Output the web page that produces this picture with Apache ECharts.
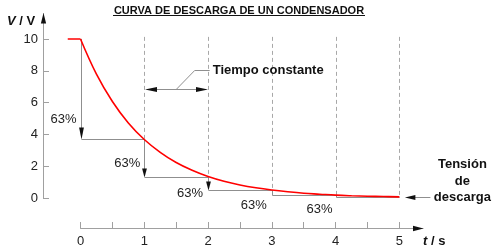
<!DOCTYPE html>
<html><head><meta charset="utf-8">
<script src="https://cdn.jsdelivr.net/npm/echarts@6/dist/echarts.min.js"></script>
<style>html,body{margin:0;padding:0;background:#fff}#c{width:500px;height:252px}</style>
</head><body><div id="c"></div>
<script>
// ---- data ----
const yTicks = [0, 2, 4, 6, 8, 10];
const xTicks = [0, 1, 2, 3, 4, 5];
const xTickMarks = [0, 0.5, 1, 1.5, 2, 2.5, 3, 3.5, 4, 4.5, 5];
const flatT = [-0.2, 0];
const flatV = [10, 10];
const curveT = [0, 0.25, 0.5, 0.75, 1, 1.25, 1.5, 1.75, 2, 2.25, 2.5, 2.75, 3, 3.25, 3.5, 3.75, 4, 4.25, 4.5, 4.75, 5];
const curveV = [10, 7.79, 6.07, 4.72, 3.68, 2.87, 2.23, 1.74, 1.35, 1.05, 0.82, 0.64, 0.50, 0.39, 0.30, 0.24, 0.18, 0.14, 0.11, 0.09, 0.07];
const stepT = [0, 1, 2, 3, 4];
const stepFrom = [10, 3.68, 1.35, 0.50, 0.18];
const stepTo = [3.68, 1.35, 0.50, 0.18, 0.07];
const stepLabels = ['63%', '63%', '63%', '63%', '63%'];
const dashT = [1, 2, 3, 4, 5];
const dashTo = [3.68, 1.35, 0.50, 0.18, 0.07];
const dashTop = 10.13;
const spanFrom = 1, spanTo = 2, spanV = 6.86;
const endT = 5, endV = 0.07;
const titleText = 'CURVA DE DESCARGA DE UN CONDENSADOR';
const spanText = 'Tiempo constante';
const endText = 'Tensión\nde\ndescarga';

// ---- style ----
const FONT = '"Liberation Sans", Arial, Helvetica, sans-serif';
const GRAY = '#8f8f8f';
const AXIS = '#a0a0a0';
const pctOffsets = [[-4, -20.5], [-4, -13], [-5, 3], [-5, 10], [-3, 12.5]];
const px = v => Math.round(v) + 0.5;

const chart = echarts.init(document.getElementById('c'), null, {renderer: 'canvas'});

function renderDash(params, api) {
  const t = api.value(0), b = api.value(1);
  const p1 = api.coord([t, dashTop]), p2 = api.coord([t, b]);
  return {type: 'line', shape: {x1: px(p1[0]), y1: p1[1], x2: px(p2[0]), y2: p2[1]},
    style: {stroke: '#a8a8a8', lineWidth: 1, lineDash: [4, 3]}};
}
function renderStep(params, api) {
  const i = params.dataIndex;
  const t = api.value(0), a = api.value(1), b = api.value(2);
  const p1 = api.coord([t, a]), p2 = api.coord([t, b]), p3 = api.coord([t + 1, b]);
  const len = p2[1] - p1[1];
  const ah = len > 40 ? 12 : (len > 10 ? 9 : 0);
  const x = px(p1[0]), yb = px(p2[1]);
  const ch = [];
  ch.push({type: 'line', shape: {x1: x, y1: p1[1], x2: x, y2: yb - ah * 0.5}, style: {stroke: GRAY, lineWidth: 1}});
  if (ah) ch.push({type: 'polygon', shape: {points: [[x - 2.4, yb - ah], [x + 2.4, yb - ah], [x, yb]]}, style: {fill: '#111'}});
  ch.push({type: 'line', shape: {x1: x, y1: yb, x2: px(p3[0]), y2: yb}, style: {stroke: GRAY, lineWidth: 1}});
  const o = pctOffsets[i];
  ch.push({type: 'text', style: {text: stepLabels[i], x: p1[0] + o[0], y: p2[1] + o[1], align: 'right', verticalAlign: 'middle',
    font: '13px ' + FONT, fill: '#222'}});
  return {type: 'group', children: ch};
}
function renderSpan(params, api) {
  const a = api.coord([api.value(0), api.value(2)]), b = api.coord([api.value(1), api.value(2)]);
  const y = px(a[1]), x1 = px(a[0]), x2 = px(b[0]);
  const mx = (a[0] + b[0]) / 2;
  return {type: 'group', children: [
    {type: 'line', shape: {x1: x1 + 6, y1: y, x2: x2 - 6, y2: y}, style: {stroke: GRAY, lineWidth: 1}},
    {type: 'polygon', shape: {points: [[x1 + 0.5, y], [x1 + 12.5, y - 2.6], [x1 + 12.5, y + 2.6]]}, style: {fill: '#111'}},
    {type: 'polygon', shape: {points: [[x2 - 0.5, y], [x2 - 12.5, y - 2.6], [x2 - 12.5, y + 2.6]]}, style: {fill: '#111'}},
    {type: 'polyline', shape: {points: [[mx, y], [mx + 18.5, y - 19], [mx + 33.5, y - 19]]}, style: {stroke: GRAY, lineWidth: 1, fill: null}},
    {type: 'text', style: {text: spanText, x: mx + 36.5, y: y - 19.5, align: 'left', verticalAlign: 'middle',
      font: 'bold 13px ' + FONT, fill: '#111'}}
  ]};
}
function renderEnd(params, api) {
  const p = api.coord([api.value(0), api.value(1)]);
  const y = px(p[1]);
  return {type: 'group', children: [
    {type: 'line', shape: {x1: p[0] + 14, y1: y, x2: p[0] + 31, y2: y}, style: {stroke: GRAY, lineWidth: 1}},
    {type: 'polygon', shape: {points: [[p[0] + 5.5, y], [p[0] + 16, y - 2.6], [p[0] + 16, y + 2.6]]}, style: {fill: '#111'}},
    {type: 'text', style: {text: endText, x: p[0] + 63, y: y - 16.5, align: 'center', verticalAlign: 'middle', lineHeight: 16.5,
      font: 'bold 13px ' + FONT, fill: '#111'}}
  ]};
}
function renderYArrow(params, api) {
  const cs = params.coordSys;
  const x = px(cs.x), y = cs.y;
  return {type: 'polygon', shape: {points: [[x, y - 0.5], [x - 2.6, y + 10], [x + 2.6, y + 10]]}, style: {fill: '#111'}};
}
function renderXArrow(params, api) {
  const cs = params.coordSys;
  const x = cs.x + cs.width, y = px(cs.y + cs.height);
  return {type: 'polygon', shape: {points: [[x + 0.5, y], [x - 10, y - 2.8], [x - 10, y + 2.8]]}, style: {fill: '#111'}};
}

const option = {
  animation: false,
  backgroundColor: '#fff',
  grid: [
    {left: 43, right: 77, top: 13.5, bottom: 54},
    {left: 80.5, right: 77, top: 227, height: 1}
  ],
  xAxis: [
    {type: 'value', gridIndex: 0, min: -0.588, max: 5.37, show: false},
    {type: 'value', gridIndex: 1, min: 0, max: 5.37,
      axisLine: {show: true, onZero: false, lineStyle: {color: AXIS, width: 1}},
      axisTick: {show: true, inside: true, length: 6, customValues: xTickMarks, lineStyle: {color: AXIS}},
      axisLabel: {customValues: xTicks, margin: 7, fontSize: 13, fontFamily: FONT, color: '#222'},
      splitLine: {show: false}}
  ],
  yAxis: [
    {type: 'value', gridIndex: 0, min: 0, max: 11.6,
      axisLine: {show: true, onZero: false, lineStyle: {color: AXIS, width: 1}},
      axisTick: {show: true, inside: true, length: 6, customValues: yTicks, lineStyle: {color: AXIS}},
      axisLabel: {customValues: yTicks, margin: 5, fontSize: 13, fontFamily: FONT, color: '#222'},
      splitLine: {show: false}},
    {type: 'value', gridIndex: 1, min: 0, max: 1, show: false}
  ],
  graphic: [
    {type: 'text', x: 239, y: 10.5, style: {text: titleText, align: 'center', verticalAlign: 'middle', font: 'bold 11px ' + FONT, fill: '#111'}},
    {type: 'line', shape: {x1: 113, y1: 15.5, x2: 365, y2: 15.5}, style: {stroke: '#111', lineWidth: 1}},
    {type: 'text', x: 7, y: 21, style: {text: '{a|V}{b| / V}', verticalAlign: 'middle',
      rich: {a: {font: 'italic bold 13px ' + FONT, fill: '#111'}, b: {font: 'bold 13px ' + FONT, fill: '#111'}}}},
    {type: 'text', x: 423, y: 241, style: {text: '{a|t}{b| / s}', verticalAlign: 'middle',
      rich: {a: {font: 'italic bold 13px ' + FONT, fill: '#111'}, b: {font: 'bold 13px ' + FONT, fill: '#111'}}}}
  ],
  series: [
    {type: 'custom', xAxisIndex: 0, yAxisIndex: 0, renderItem: renderDash, z: 1,
      data: dashT.map((t, i) => [t, dashTo[i]])},
    {type: 'custom', xAxisIndex: 0, yAxisIndex: 0, renderItem: renderStep, z: 2,
      data: stepT.map((t, i) => [t, stepFrom[i], stepTo[i]])},
    {type: 'custom', xAxisIndex: 0, yAxisIndex: 0, renderItem: renderSpan, z: 2,
      data: [[spanFrom, spanTo, spanV]]},
    {type: 'custom', xAxisIndex: 0, yAxisIndex: 0, renderItem: renderEnd, z: 2,
      data: [[endT, endV]]},
    {type: 'line', xAxisIndex: 0, yAxisIndex: 0, data: flatT.map((t, i) => [t, flatV[i]]), symbol: 'none', z: 5,
      lineStyle: {color: '#ff0000', width: 1.6}},
    {type: 'line', xAxisIndex: 0, yAxisIndex: 0, data: curveT.map((t, i) => [t, curveV[i]]), symbol: 'none', smooth: 0.4, z: 5,
      lineStyle: {color: '#ff0000', width: 1.6}},
    {type: 'custom', xAxisIndex: 0, yAxisIndex: 0, renderItem: renderYArrow, z: 6, data: [[0, 0]]},
    {type: 'custom', xAxisIndex: 1, yAxisIndex: 1, renderItem: renderXArrow, z: 6, data: [[0, 0]]}
  ]
};
chart.setOption(option);
</script>
</body></html>
